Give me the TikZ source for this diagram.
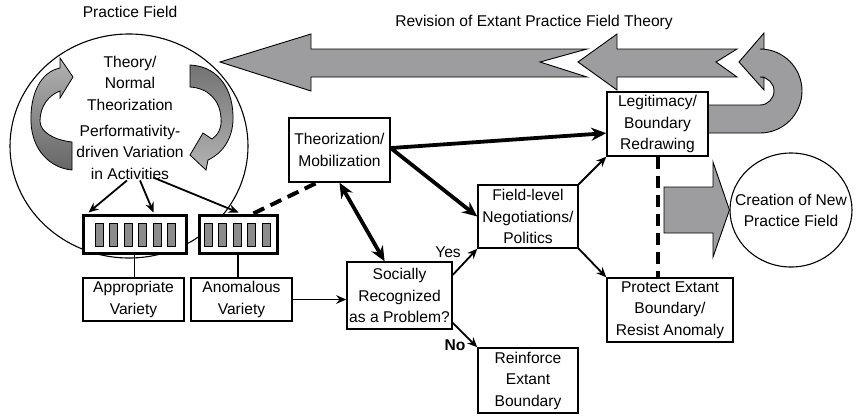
\documentclass[tikz,border=0pt]{standalone}
\usepackage{fontspec}
\setmainfont{Liberation Sans}
\usetikzlibrary{arrows.meta,calc,shapes.geometric}
\newcommand\diafont{\fontsize{15.6}{21.5}\selectfont}
\definecolor{bandgray}{RGB}{157,157,159}
\definecolor{bargray}{RGB}{140,140,140}
\begin{document}
\begin{tikzpicture}[x=1pt,y=-1pt,
  box/.style={draw, line width=1.4pt, fill=white, align=center, inner sep=0pt, font=\diafont},
  barbox/.style={draw, line width=3pt, fill=white, inner sep=0pt},
  lbl/.style={font=\diafont, align=center, inner sep=0pt},
  thinarrow/.style={line width=1.8pt, -{Stealth[length=10pt,width=8.5pt]}},
  thickarrow/.style={line width=3.8pt, -{Stealth[length=15pt,width=13pt]}},
  dashline/.style={line width=4pt, dash pattern=on 12pt off 7pt},
  bigarrow/.style={draw, line width=0.9pt, fill=bandgray, line join=miter},
  ring/.style={draw, ellipse, line width=1.1pt, inner sep=0pt}]
\useasboundingbox (0,0) rectangle (859,416);

% curved arrows inside the practice field
\shade[draw, line width=0.8pt, top color=black!30, bottom color=black!60]
  (72,170) -- (72,142) .. controls (54,140) and (40,132) .. (40,121)
  .. controls (40,106) and (49,95) .. (60,91) -- (60,98) -- (73,77) -- (60,58) -- (60,68)
  .. controls (40,72) and (30,95) .. (31,122) .. controls (32,150) and (50,168) .. (72,170) -- cycle;
\shade[draw, line width=0.8pt, top color=black!55, bottom color=black!30]
  (190,65) -- (190,87) .. controls (208,88) and (220,100) .. (221,118)
  .. controls (222,128) and (218,135) .. (212,139) -- (203,133) -- (190,155) -- (206,170) -- (208,160)
  .. controls (225,152) and (234,135) .. (233,115) .. controls (232,85) and (215,66) .. (190,65) -- cycle;

% practice field circle
\node[ring, minimum width=238pt, minimum height=224pt] (pf) at (129,146) {};
\node[lbl] (pflabel) at (130,12) {Practice Field};
\node[lbl] (theory) at (130,83) {Theory/\\Normal\\Theorization};
\node[lbl] (perf) at (130,152) {Performativity-\\driven Variation\\in Activities};

% revision arrows
\node[lbl] (revlabel) at (534,22) {Revision of Extant Practice Field Theory};
\draw[bigarrow] (220,62) -- (311,34) -- (311,49) -- (587,49) -- (540,62) -- (587,77) -- (311,77) -- (311,91) -- cycle;
\draw[bigarrow] (578,62) -- (617,34) -- (617,49) -- (737,49) -- (716,62) -- (737,77) -- (617,77) -- (617,90) -- cycle;
\draw[bigarrow] (739,62) -- (764,33) -- (764,49) -- (760,49) arc[start angle=-90, end angle=90, radius=42]
  -- (708,133) -- (708,105) -- (760,105) arc[start angle=90, end angle=-90, radius=14]
  -- (764,77) -- (764,90) -- cycle;

% bar boxes
\node[barbox, minimum width=103pt, minimum height=38pt] (bar1) at (134.5,234) {};
\node[barbox, minimum width=78pt, minimum height=38pt] (bar2) at (238,234) {};
\foreach \i in {0,...,5} \draw[fill=bargray, line width=0.7pt] (95+14.5*\i,223) rectangle ++(8,23);
\foreach \i in {0,...,4} \draw[fill=bargray, line width=0.7pt] (204+14.5*\i,223) rectangle ++(8,23);

% boxes
\node[box, minimum width=101pt, minimum height=43pt] (approp) at (133.5,299.5) {Appropriate\\Variety};
\node[box, minimum width=101pt, minimum height=43pt] (anom) at (241.5,299.5) {Anomalous\\Variety};
\node[box, minimum width=101pt, minimum height=64pt] (theo) at (339.5,150) {Theorization/\\Mobilization};
\node[box, minimum width=105pt, minimum height=67pt] (soc) at (399.5,295.5) {Socially\\Recognized\\as a Problem?};
\node[box, minimum width=100pt, minimum height=63pt] (field) at (528,216.5) {Field-level\\Negotiations/\\Politics};
\node[box, minimum width=100pt, minimum height=65pt] (reinf) at (528,380.5) {Reinforce\\Extant\\Boundary};
\node[box, minimum width=101pt, minimum height=64pt] (legit) at (657.5,124) {Legitimacy/\\Boundary\\Redrawing};
\node[box, minimum width=126pt, minimum height=64pt] (protect) at (670,310) {Protect Extant\\Boundary/\\Resist Anomaly};

% creation of new practice field
\node[ring, minimum width=122pt, minimum height=114pt] (creation) at (791,210) {};
\node[lbl] (creationtext) at (791,210.5) {Creation of New\\Practice Field};
\draw[bigarrow] (664,187) -- (713,187) -- (713,162) -- (creation.west) -- (713,257) -- (713,233) -- (664,233) -- cycle;

% connectors
\draw[line width=1.4pt] (bar1.south) -- (bar1.south |- approp.north);
\draw[line width=1.4pt] (bar2.south) -- (bar2.south |- anom.north);
\draw[thinarrow] ($(perf.south)+(-3,1)$) -- ($(bar1.north west)+(7,-1)$);
\draw[thinarrow] ($(perf.south)+(10,1)$) -- ($(bar1.north west)+(72,-1)$);
\draw[thinarrow] ($(perf.south)+(23,-2)$) -- ($(bar2.north west)+(41,-1)$);
\draw[dashline] ($(bar2.north west)!0.69!(bar2.north east)$) -- ($(theo.south west)!0.28!(theo.south east)$);
\draw[thinarrow] (anom.east) -- (soc.west |- anom.east);
\draw[thickarrow] ($(theo.north east)!0.47!(theo.south east)$) -- ($(legit.north west)!0.64!(legit.south west)$);
\draw[thickarrow] ($(theo.north east)!0.47!(theo.south east)$) -- (field.west);
\draw[line width=3.8pt, {Stealth[length=15pt,width=13pt]}-{Stealth[length=15pt,width=13pt]}]
  ($(theo.south west)!0.5!(theo.south east)$) -- ($(soc.north west)!0.36!(soc.north east)$);
\draw[thinarrow] ($(soc.north east)!0.2!(soc.south east)$) -- (field.south west);
\draw[thinarrow] ($(soc.north east)!0.9!(soc.south east)$) -- (reinf.north west);
\node[lbl] (yes) at (448,252) {Yes};
\node[lbl, font=\diafont\bfseries] (no) at (455,345) {No};
\draw[thinarrow] (field.north east) -- (legit.south west);
\draw[thinarrow] (field.south east) -- (protect.north west);
\draw[dashline] (legit.south) -- (legit.south |- protect.north);
\end{tikzpicture}
\end{document}
